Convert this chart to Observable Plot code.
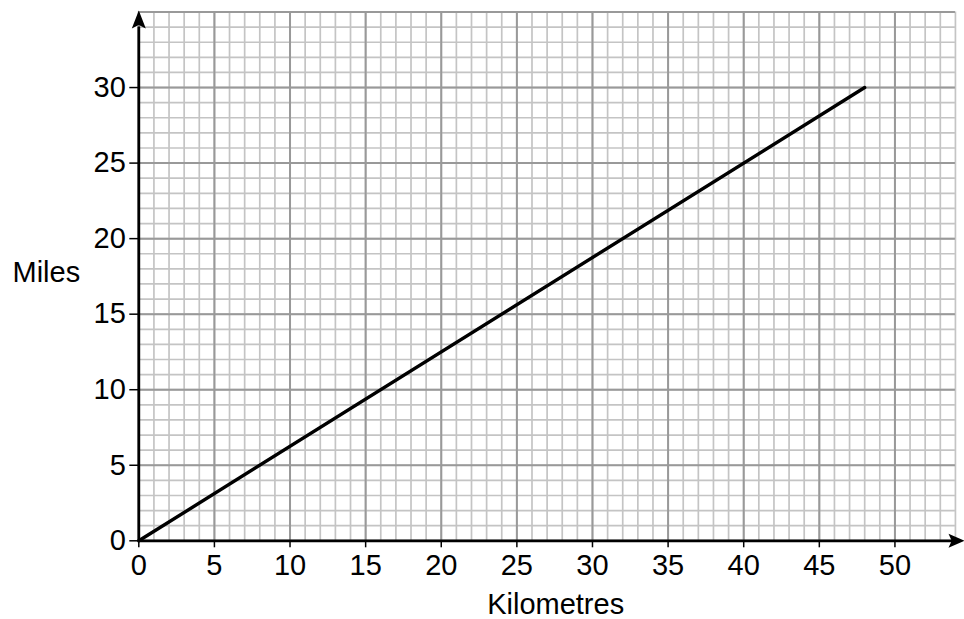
<!DOCTYPE html>
<html>
<head>
<meta charset="utf-8">
<script src="https://cdn.jsdelivr.net/npm/d3@7"></script>
<script src="https://cdn.jsdelivr.net/npm/@observablehq/plot@0.6"></script>
<style>
  html, body { margin: 0; padding: 0; background: #fff; }
  #chart { width: 964px; height: 619px; overflow: hidden; }
</style>
</head>
<body>
<div id="chart"></div>
<script>
// Data: the conversion line (kilometres -> miles)
const km = [0, 48];
const miles = [0, 30];

// Tick labels
const xTicks = [0, 5, 10, 15, 20, 25, 30, 35, 40, 45, 50];
const yTicks = [0, 5, 10, 15, 20, 25, 30];

// Graph-paper grid lines
const xMinor = d3.range(0, 55, 1);
const yMinor = d3.range(0, 36, 1);
const xMajor = d3.range(0, 55, 5);
const yMajor = d3.range(0, 36, 5);

const xLabel = "Kilometres";
const yLabel = "Miles";

const line = km.map((k, i) => ({km: k, miles: miles[i]}));

// Filled arrowhead shape for the axes
const arrowHead = {
  draw(ctx, l) {
    const w = 7;
    ctx.moveTo(0, -l);
    ctx.lineTo(w, 0);
    ctx.lineTo(0, -l * 0.2);
    ctx.lineTo(-w, 0);
    ctx.closePath();
  }
};

const font = "'Liberation Sans', Arial, Helvetica, sans-serif";

const chart = Plot.plot({
  width: 964,
  height: 619,
  marginLeft: 138.3,
  marginRight: 0,
  marginTop: 10,
  marginBottom: 78.7,
  style: {fontFamily: font, fontSize: "29px", background: "#fff", color: "#000", overflow: "visible"},
  x: {type: "linear", domain: [0, 54.6]},
  y: {type: "linear", domain: [0, 35.1]},
  marks: [
    Plot.ruleX(xMinor, {y1: 0, y2: 35, stroke: "#c4c4c4", strokeWidth: 1.7}),
    Plot.ruleY(yMinor, {x1: 0, x2: 54, stroke: "#c4c4c4", strokeWidth: 1.7}),
    Plot.ruleX(xMajor, {y1: 0, y2: 35, stroke: "#999", strokeWidth: 2}),
    Plot.ruleY(yMajor, {x1: 0, x2: 54, stroke: "#999", strokeWidth: 2}),
    Plot.line(line, {x: "km", y: "miles", stroke: "#000", strokeWidth: 3.4}),
    // axes lines
    Plot.ruleY([0], {x1: 0, x2: 54, stroke: "#000", strokeWidth: 2.8}),
    Plot.ruleX([0], {y1: 0, y2: 34, stroke: "#000", strokeWidth: 2.8}),
    Plot.vector([0], {x: 54.6, y: 0, rotate: 90, length: 16, anchor: "end", shape: arrowHead, fill: "#000", stroke: "none"}),
    Plot.vector([0], {x: 0, y: 35.1, rotate: 0, length: 18, anchor: "end", shape: arrowHead, fill: "#000", stroke: "none"}),
    Plot.axisX({ticks: xTicks, tickSize: 7, tickPadding: 7, label: null, fontSize: 29, strokeWidth: 1.5, tickFormat: d3.format("d")}),
    Plot.axisY({ticks: yTicks, tickSize: 9, tickPadding: 4, label: null, fontSize: 29, strokeWidth: 1.5, tickFormat: d3.format("d")}),
    Plot.text([xLabel], {text: d => d, frameAnchor: "bottom", dx: 4, dy: 53, lineAnchor: "top", textAnchor: "middle", fontSize: 29}),
    Plot.text([yLabel], {text: d => d, frameAnchor: "left", dx: -126.3, dy: -3, lineAnchor: "middle", textAnchor: "start", fontSize: 29})
  ]
});

document.getElementById("chart").appendChild(chart);
</script>
</body>
</html>
